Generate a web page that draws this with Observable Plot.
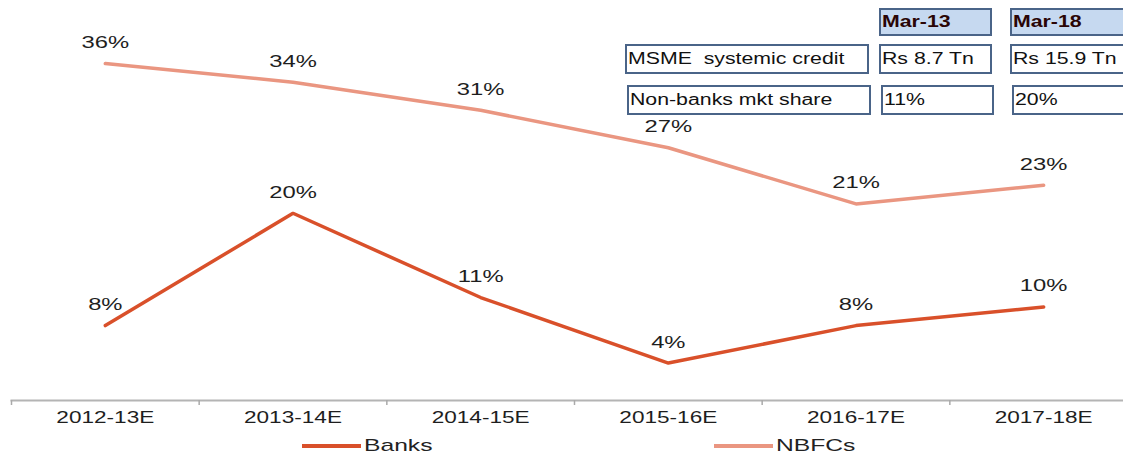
<!DOCTYPE html>
<html>
<head>
<meta charset="utf-8">
<script src="https://cdn.jsdelivr.net/npm/d3@7"></script>
<script src="https://cdn.jsdelivr.net/npm/@observablehq/plot@0.6"></script>
<style>
  html, body { margin: 0; padding: 0; background: #fff; }
  #wrap { position: relative; width: 1123px; height: 454px; overflow: hidden; font-family: "Liberation Sans", Arial, sans-serif; }
  .cell { position: absolute; box-sizing: border-box; border: 2px solid #4a6488; background: #fff; }
  .cell.head { background: #c6d9f0; }
  .cell span { position: absolute; left: 1px; top: 50%; white-space: pre; font-size: 16px; color: #111;
               transform: translateY(-50%) scaleX(1.33); transform-origin: left center; line-height: 1; }
  .cell.head span { font-weight: bold; color: #2a0505; }
  .legend { position: absolute; top: 436px; height: 20px; display: flex; align-items: center; }
  .legend i { display: inline-block; width: 59px; height: 4px; margin-right: 3px; }
  .legend span { font-size: 17px; color: #222; display: inline-block; transform: scaleX(1.45); transform-origin: left center; }
</style>
</head>
<body>
<div id="wrap"></div>
<script>
// ---- data ----
const categories = ["2012-13E", "2013-14E", "2014-15E", "2015-16E", "2016-17E", "2017-18E"];
const banks = [8, 20, 11, 4, 8, 10];
const nbfcs = [36, 34, 31, 27, 21, 23];
const seriesNames = ["Banks", "NBFCs"];
const seriesColors = ["#d9502a", "#ea9681"];

const tableHeaders = ["Mar-13", "Mar-18"];
const tableRowLabels = ["MSME  systemic credit", "Non-banks mkt share"];
const tableMar13 = ["Rs 8.7 Tn", "11%"];
const tableMar18 = ["Rs 15.9 Tn", "20%"];

// ---- build tables for Plot ----
const rows = [];
categories.forEach((c, i) => {
  rows.push({series: "Banks", i, v: banks[i]});
  rows.push({series: "NBFCs", i, v: nbfcs[i]});
});
const centers = d3.range(categories.length);
const bounds = d3.range(categories.length + 1).map(k => k - 0.5);

const chart = Plot.plot({
  width: 1123,
  height: 434,
  marginLeft: 11,
  marginRight: -14,
  marginTop: 63,
  marginBottom: 34,
  style: {fontFamily: "'Liberation Sans', Arial, sans-serif", fontSize: "17px", background: "#fff", overflow: "visible"},
  x: {domain: [-0.5, categories.length - 0.5], axis: null},
  y: {domain: [0, 36], axis: null},
  color: {domain: seriesNames, range: seriesColors},
  marks: [
    Plot.frame({anchor: "bottom", stroke: "#b4b4b4", strokeWidth: 2}),
    Plot.axisX({ticks: bounds, tickSize: 5, tickFormat: () => "", label: null, stroke: "#aaa", strokeWidth: 1.5}),
    Plot.axisX({ticks: centers, tickSize: 0, tickPadding: 10, tickFormat: i => categories[i], label: null, fill: "#1e1e1e", fontSize: 17, className: "xlab"}),
    Plot.line(rows, {x: "i", y: "v", z: "series", stroke: "series", strokeWidth: 3.5, strokeLinecap: "round", strokeLinejoin: "miter"}),
    Plot.text(rows, {x: "i", y: "v", text: d => d.v + "%", dy: -21, fill: "#1e1e1e", fontSize: 17, className: "vlab"})
  ]
});

// horizontally widen the lettering (the reference glyphs are stretched)
chart.querySelectorAll("text").forEach(t => {
  const tr = t.getAttribute("transform") || "";
  const inAxis = t.closest(".xlab") !== null;
  t.setAttribute("transform", tr + (inAxis ? " scale(1.33,1)" : " scale(1.4,1)"));
});

const wrap = document.getElementById("wrap");
wrap.appendChild(chart);

// ---- annotation table (HTML overlay) ----
const colLeft = [625, 879, 1010], colWidth = [244, 113, 130];
const rowTop = [8, 44, 85], rowHeight = [28, 30, 30];
function cell(text, col, row, head) {
  const d = document.createElement("div");
  d.className = "cell" + (head ? " head" : "");
  d.style.left = colLeft[col] + (row === 2 ? 2 : 0) + "px";
  d.style.top = rowTop[row] + "px";
  d.style.width = colWidth[col] + "px";
  d.style.height = rowHeight[row] + "px";
  const s = document.createElement("span");
  s.textContent = text;
  d.appendChild(s);
  wrap.appendChild(d);
}
tableHeaders.forEach((h, k) => cell(h, k + 1, 0, true));
tableRowLabels.forEach((lab, r) => {
  cell(lab, 0, r + 1);
  cell(tableMar13[r], 1, r + 1);
  cell(tableMar18[r], 2, r + 1);
});

// ---- legend ----
const legendLeft = [302, 714];
seriesNames.forEach((name, k) => {
  const g = document.createElement("div");
  g.className = "legend";
  g.style.left = legendLeft[k] + "px";
  g.innerHTML = `<i style="background:${seriesColors[k]}"></i><span>${name}</span>`;
  wrap.appendChild(g);
});
</script>
</body>
</html>
